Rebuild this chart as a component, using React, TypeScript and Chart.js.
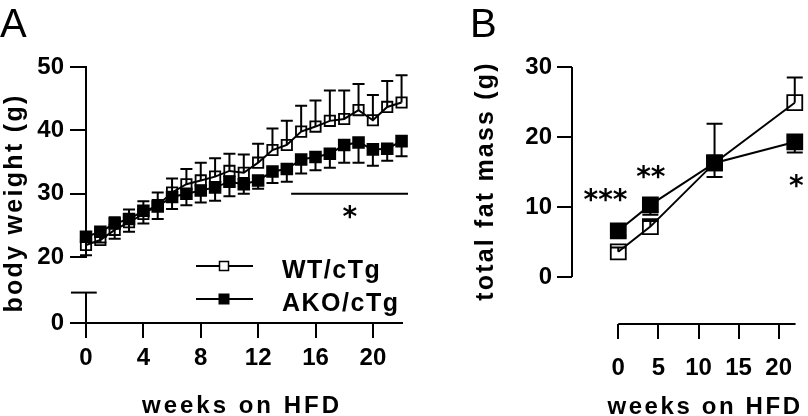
import React, { useEffect, useRef } from 'react';
import { Chart, registerables } from 'chart.js';

Chart.register(...registerables);

const FONT = '"Liberation Sans", Arial, Helvetica, sans-serif';
const STAR_FONT = '"DejaVu Sans", "Liberation Sans", sans-serif';

// ---------- Panel A: body weight ----------
const weeksA = [0, 1, 2, 3, 4, 5, 6, 7, 8, 9, 10, 11, 12, 13, 14, 15, 16, 17, 18, 19, 20, 21, 22];
const wtWeight = [21.9, 22.7, 24.3, 25.5, 26.8, 28.2, 30.2, 31.5, 32.1, 32.7, 33.6, 33.3, 34.9, 36.9, 37.7, 39.8, 40.6, 41.5, 41.8, 43.2, 41.6, 43.7, 44.4];
const wtWeightErrTop = [23.0, 24.2, 26.3, 27.5, 28.8, 30.2, 32.4, 33.9, 34.9, 35.6, 36.3, 36.2, 37.9, 40.3, 41.5, 43.9, 44.7, 46.3, 46.3, 47.3, 45.6, 47.8, 48.7];
const akoWeight = [23.2, 24.0, 25.3, 26.0, 27.3, 28.0, 29.5, 30.0, 30.5, 31.0, 31.9, 31.5, 32.1, 33.5, 33.9, 35.4, 35.8, 36.3, 37.7, 38.1, 37.0, 37.1, 38.3];
const akoWeightErrBottom = [20.3, 22.3, 22.9, 24.0, 25.3, 26.0, 27.6, 28.2, 28.6, 28.9, 29.6, 30.0, 30.8, 31.7, 31.9, 33.2, 33.7, 34.1, 34.9, 34.9, 34.4, 35.2, 35.9];
const xTicksA = [0, 4, 8, 12, 16, 20];
const yTicksA = [20, 30, 40, 50];
const yTicksALow = [0];

// ---------- Panel B: total fat mass ----------
const weeksB = [0, 4, 12, 22];
const wtFat = [3.6, 7.2, 16.3, 24.9];
const wtFatErrTop = [4.2, 8.0, 21.9, 28.5];
const akoFat = [6.6, 10.3, 16.3, 19.3];
const akoFatErrBottom = [5.9, 8.9, 14.3, 17.8];
const xTicksB = [0, 5, 10, 15, 20];
const yTicksB = [0, 10, 20, 30];

const seriesNames = ['WT/cTg', 'AKO/cTg'];

const errorBars = {
  id: 'errorBars',
  beforeDatasetsDraw(chart: any, _args: any, opts: any) {
    const ctx = chart.ctx;
    const cap = opts.cap || 6;
    chart.data.datasets.forEach((ds: any, i: number) => {
      const meta = chart.getDatasetMeta(i);
      const ys = chart.scales[meta.yAxisID];
      ctx.save();
      ctx.strokeStyle = '#000';
      ctx.lineWidth = 2;
      meta.data.forEach((pt: any, j: number) => {
        const end = ds.errorEnds ? ds.errorEnds[j] : null;
        if (end == null) return;
        const ye = ys.getPixelForValue(end);
        ctx.beginPath();
        ctx.moveTo(pt.x, pt.y);
        ctx.lineTo(pt.x, ye);
        ctx.moveTo(pt.x - cap, ye);
        ctx.lineTo(pt.x + cap, ye);
        ctx.stroke();
      });
      ctx.restore();
    });
  },
};

function line(ctx: CanvasRenderingContext2D, x1: number, y1: number, x2: number, y2: number) {
  ctx.beginPath();
  ctx.moveTo(x1, y1);
  ctx.lineTo(x2, y2);
  ctx.stroke();
}

function text(ctx: CanvasRenderingContext2D, s: string, x: number, y: number, font: string, align: CanvasTextAlign, baseline: CanvasTextBaseline, spacing = '0px', rot = 0) {
  ctx.save();
  ctx.translate(x, y);
  if (rot) ctx.rotate(rot);
  ctx.font = font;
  (ctx as any).letterSpacing = spacing;
  ctx.textAlign = align;
  ctx.textBaseline = baseline;
  ctx.fillStyle = '#000';
  ctx.fillText(s, 0, 0);
  ctx.restore();
}

const tickFont = { family: FONT, size: 24, weight: 'bold' as const };

const panelADecor = {
  id: 'panelADecor',
  afterDraw(chart: any) {
    const ctx: CanvasRenderingContext2D = chart.ctx;
    const xs = chart.scales.x;
    const yl = chart.scales.yLow;
    const y = chart.scales.y;
    ctx.save();
    ctx.strokeStyle = '#000';
    ctx.lineWidth = 2;
    // x axis line
    const y0 = yl.getPixelForValue(0);
    line(ctx, xs.getPixelForValue(-1.05), y0, xs.getPixelForValue(22.1), y0);
    // lower y-axis segment with break
    const x0 = xs.getPixelForValue(0);
    const yb = yl.getPixelForValue(4.8);
    line(ctx, x0, y0, x0, yb);
    line(ctx, xs.getPixelForValue(-1.05), yb, xs.getPixelForValue(0.75), yb);
    // significance line
    const ys = y.getPixelForValue(30);
    line(ctx, xs.getPixelForValue(14.3), ys, xs.getPixelForValue(22.45), ys);
    ctx.restore();
    text(ctx, '*', xs.getPixelForValue(18.4), y.getPixelForValue(26.0), `bold 28px ${STAR_FONT}`, 'center', 'middle');

    // legend
    ctx.save();
    ctx.strokeStyle = '#000';
    ctx.lineWidth = 2;
    const legendRows = [266, 299];
    legendRows.forEach((ly, i) => {
      line(ctx, 196, ly, 253, ly);
      ctx.lineWidth = 1.5;
      if (i === 0) {
        ctx.fillStyle = '#fff';
        ctx.fillRect(219.5, ly - 4.5, 9, 9);
        ctx.strokeRect(219.5, ly - 4.5, 9, 9);
      } else {
        ctx.fillStyle = '#000';
        ctx.fillRect(218.5, ly - 5.5, 11, 11);
      }
      ctx.lineWidth = 2;
      text(ctx, seriesNames[i], 282, ly + 12, `bold 25px ${FONT}`, 'left', 'alphabetic', '1.5px');
    });
    ctx.restore();

    // titles
    text(ctx, 'body weight (g)', 22, 203, `bold 25px ${FONT}`, 'center', 'alphabetic', '2.3px', -Math.PI / 2);
    text(ctx, 'weeks on HFD', 242, 413, `bold 24px ${FONT}`, 'center', 'alphabetic', '3px');
    text(ctx, 'A', 0, 37, `40px ${FONT}`, 'left', 'alphabetic');
  },
};

const panelBDecor = {
  id: 'panelBDecor',
  afterDraw(chart: any) {
    const ctx: CanvasRenderingContext2D = chart.ctx;
    const xs = chart.scales.x;
    const ys = chart.scales.y;
    ctx.save();
    ctx.strokeStyle = '#000';
    ctx.lineWidth = 2;
    const bottom = ys.getPixelForValue(ys.min);
    line(ctx, xs.getPixelForValue(0), bottom, xs.getPixelForValue(22.1), bottom);
    const left = xs.getPixelForValue(xs.min);
    line(ctx, left, ys.getPixelForValue(0), left, ys.getPixelForValue(30));
    ctx.restore();
    const sf = `bold 28px ${STAR_FONT}`;
    text(ctx, '***', xs.getPixelForValue(-1.6), ys.getPixelForValue(10.8), sf, 'center', 'middle');
    text(ctx, '**', xs.getPixelForValue(4.05), ys.getPixelForValue(14.0), sf, 'center', 'middle');
    text(ctx, '*', xs.getPixelForValue(22.2), ys.getPixelForValue(12.8), sf, 'center', 'middle');

    text(ctx, 'total fat mass (g)', 63, 181, `bold 25px ${FONT}`, 'center', 'alphabetic', '2.2px', -Math.PI / 2);
    text(ctx, 'weeks on HFD', 275, 414, `bold 24px ${FONT}`, 'center', 'alphabetic', '2.6px');
    text(ctx, 'B', 40, 37, `40px ${FONT}`, 'left', 'alphabetic');
  },
};

function fixedTicks(values: number[]) {
  return (s: any) => {
    s.ticks = values.map((v) => ({ value: v }));
  };
}

const gridTicks = (len: number) => ({
  drawOnChartArea: false,
  drawTicks: true,
  tickLength: len,
  color: '#000',
  lineWidth: 2,
});

function makeDataset(label: string, xs: number[], ys: number[], errs: number[], filled: boolean, radius: number, yAxisID: string) {
  return {
    label,
    data: xs.map((x, i) => ({ x, y: ys[i] })),
    errorEnds: errs,
    borderColor: '#000',
    borderWidth: 2,
    pointStyle: 'rect',
    pointRadius: radius,
    pointHoverRadius: radius,
    pointBackgroundColor: filled ? '#000' : 'rgba(255,255,255,0)',
    pointBorderColor: '#000',
    pointBorderWidth: 1.8,
    tension: 0,
    clip: false,
    yAxisID,
  } as any;
}

function PanelA() {
  const ref = useRef<HTMLCanvasElement>(null);
  useEffect(() => {
    const chart = new Chart(ref.current!, {
      type: 'line',
      data: {
        datasets: [
          makeDataset(seriesNames[1], weeksA, akoWeight, akoWeightErrBottom, true, 7.6, 'y'),
          makeDataset(seriesNames[0], weeksA, wtWeight, wtWeightErrTop, false, 7.3, 'y'),
        ],
      },
      options: {
        responsive: false,
        animation: false,
        events: [],
        layout: { padding: { left: 0, top: 67, right: 27, bottom: 0 } },
        plugins: { legend: { display: false }, tooltip: { enabled: false }, errorBars: { cap: 6 } } as any,
        scales: {
          x: {
            type: 'linear',
            position: 'bottom',
            min: 0,
            max: 22.1,
            afterBuildTicks: fixedTicks(xTicksA),
            afterFit: (s: any) => { s.height = 93; },
            grid: gridTicks(15),
            border: { display: false },
            ticks: { font: tickFont, color: '#000', padding: 6, maxRotation: 0, autoSkip: false, callback: (v: any) => String(v) },
          },
          yLow: {
            type: 'linear',
            position: 'left',
            stack: 'A',
            stackWeight: 10.4,
            min: 0,
            max: 10.4,
            afterBuildTicks: fixedTicks(yTicksALow),
            afterFit: (s: any) => { s.width = 86; },
            grid: gridTicks(16),
            border: { display: false },
            ticks: { font: tickFont, color: '#000', padding: 6, callback: (v: any) => String(v) },
          },
          y: {
            type: 'linear',
            position: 'left',
            stack: 'A',
            stackWeight: 30,
            min: 20,
            max: 50,
            afterBuildTicks: fixedTicks(yTicksA),
            afterFit: (s: any) => { s.width = 86; },
            grid: gridTicks(16),
            border: { display: true, color: '#000', width: 2 },
            ticks: { font: tickFont, color: '#000', padding: 6, callback: (v: any) => String(v) },
          },
        } as any,
      },
      plugins: [errorBars, panelADecor],
    });
    return () => chart.destroy();
  }, []);
  return <canvas ref={ref} width={430} height={416} style={{ position: 'absolute', left: 0, top: 0, width: 430, height: 416 }} />;
}

function PanelB() {
  const ref = useRef<HTMLCanvasElement>(null);
  useEffect(() => {
    const chart = new Chart(ref.current!, {
      type: 'line',
      data: {
        datasets: [
          makeDataset(seriesNames[1], weeksB, akoFat, akoFatErrBottom, true, 10.6, 'y'),
          makeDataset(seriesNames[0], weeksB, wtFat, wtFatErrTop, false, 10.6, 'y'),
        ],
      },
      options: {
        responsive: false,
        animation: false,
        events: [],
        layout: { padding: { left: 0, top: 67, right: 9, bottom: 0 } },
        plugins: { legend: { display: false }, tooltip: { enabled: false }, errorBars: { cap: 8 } } as any,
        scales: {
          x: {
            type: 'linear',
            position: 'bottom',
            min: -5.77,
            max: 22.1,
            afterBuildTicks: fixedTicks(xTicksB),
            afterFit: (s: any) => { s.height = 92; },
            grid: gridTicks(15),
            border: { display: false },
            ticks: { font: tickFont, color: '#000', padding: 15, maxRotation: 0, autoSkip: false, callback: (v: any) => String(v) },
          },
          y: {
            type: 'linear',
            position: 'left',
            min: -6.71,
            max: 30,
            afterBuildTicks: fixedTicks(yTicksB),
            afterFit: (s: any) => { s.width = 142; },
            grid: gridTicks(15),
            border: { display: false },
            ticks: { font: tickFont, color: '#000', padding: 5, callback: (v: any) => String(v) },
          },
        } as any,
      },
      plugins: [errorBars, panelBDecor],
    });
    return () => chart.destroy();
  }, []);
  return <canvas ref={ref} width={378} height={416} style={{ position: 'absolute', left: 430, top: 0, width: 378, height: 416 }} />;
}

export default function App() {
  return (
    <div style={{ position: 'fixed', left: 0, top: 0, width: 808, height: 416, background: '#fff', overflow: 'hidden' }}>
      <PanelA />
      <PanelB />
    </div>
  );
}
